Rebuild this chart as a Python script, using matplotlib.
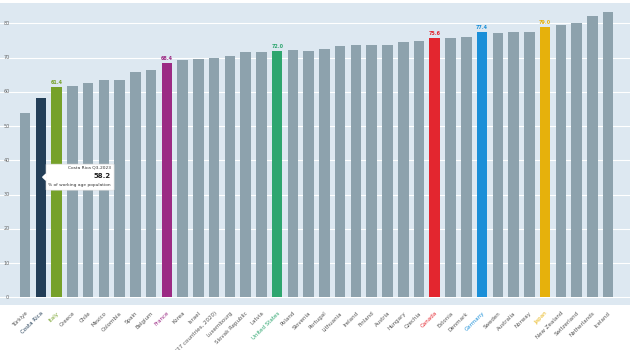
import matplotlib.pyplot as plt
from matplotlib.patches import FancyBboxPatch

countries = ['Türkiye', 'Costa Rica', 'Italy', 'Greece', 'Chile', 'Mexico', 'Colombia',
             'Spain', 'Belgium', 'France', 'Korea', 'Israel', 'EU (27 countries, 2020)',
             'Luxembourg', 'Slovak Republic', 'Latvia', 'United States', 'Poland',
             'Slovenia', 'Portugal', 'Lithuania', 'Ireland', 'Finland', 'Austria',
             'Hungary', 'Czechia', 'Canada', 'Estonia', 'Denmark', 'Germany', 'Sweden',
             'Australia', 'Norway', 'Japan', 'New Zealand', 'Switzerland', 'Netherlands',
             'Iceland']
values = [53.7, 58.2, 61.4, 61.6, 62.5, 63.5, 63.5, 65.7, 66.4, 68.4, 69.2, 69.7, 70.0,
          70.4, 71.5, 71.7, 72.0, 72.1, 72.0, 72.4, 73.4, 73.6, 73.6, 73.7, 74.4, 74.8,
          75.6, 75.7, 75.9, 77.4, 77.2, 77.3, 77.4, 79.0, 79.5, 80.1, 82.2, 83.2]
highlight = {'Costa Rica': '#233e57', 'Italy': '#76a12a', 'France': '#9b2a84',
             'United States': '#2ea66f', 'Canada': '#e3262f', 'Germany': '#1a8fd8',
             'Japan': '#e6b10c'}
labelled = ['Italy', 'France', 'United States', 'Canada', 'Germany', 'Japan']
yticks = [0, 10, 20, 30, 40, 50, 60, 70, 80]

grey = '#8da2ad'
fig = plt.figure(figsize=(6.3, 3.5), dpi=100)
ax = fig.add_axes([0, 1 - 305 / 350, 1, 302 / 350])
ax.set_facecolor('#dde8f1')
x = list(range(len(countries)))
colors = [highlight.get(c, grey) for c in countries]
ax.bar(x, values, width=0.67, color=colors, zorder=3)
ax.set_xlim(-1.59, 38.39)
ax.set_ylim(-2.2, 85.9)
for t in yticks:
    ax.axhline(t, color='white', lw=0.8, zorder=1)
    ax.text(-1.15, t, str(t), fontsize=3.5, color='#666666', ha='center', va='center')
for side in ax.spines.values():
    side.set_visible(False)
ax.set_yticks([])
ax.set_xticks(x)
ax.set_xticklabels(countries, rotation=45, ha='right', rotation_mode='anchor', fontsize=4)
ax.tick_params(axis='x', length=0, pad=4)
for lab, c in zip(ax.get_xticklabels(), countries):
    lab.set_color(highlight.get(c, '#555555'))
for i, c in enumerate(countries):
    if c in labelled:
        ax.text(i, values[i] + 0.6, f'{values[i]:.1f}', fontsize=3.5, ha='center',
                va='bottom', color=highlight[c], fontweight='bold')

# tooltip for Costa Rica
box = FancyBboxPatch((1.33, 31.3), 4.32, 7.6, boxstyle='round,pad=0,rounding_size=0.1',
                     fc='white', ec='#dddddd', lw=0.4, zorder=5)
ax.add_patch(box)
ax.fill([1.33, 1.12, 1.33], [36.0, 35.1, 34.2], color='white', zorder=5)
ax.text(5.45, 37.8, 'Costa Rica Q3-2023', fontsize=3.2, ha='right', va='center',
        color='#333333', zorder=6)
ax.text(5.45, 35.3, f'{values[1]:.1f}', fontsize=5, ha='right', va='center',
        fontweight='bold', color='#222222', zorder=6)
ax.text(5.45, 32.7, '% of working age population', fontsize=3.2, ha='right',
        va='center', color='#333333', zorder=6)
fig.savefig('out.png', dpi=100)
